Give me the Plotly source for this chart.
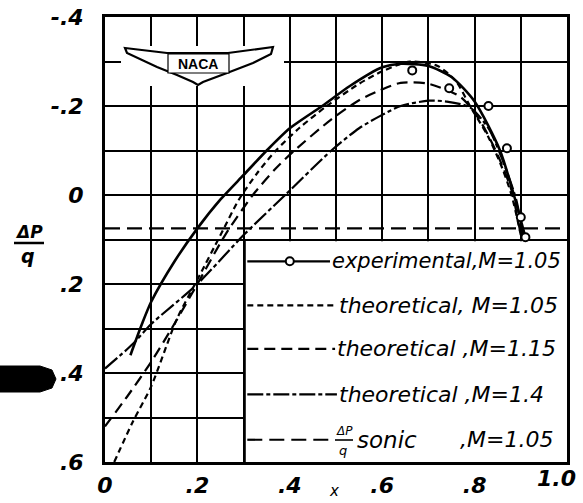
import plotly.graph_objects as go

# ---------------- data ----------------
x_exp_line = [0.055, 0.08, 0.10, 0.15, 0.20, 0.25, 0.30, 0.35, 0.40, 0.47, 0.53, 0.60, 0.64, 0.70, 0.75, 0.80, 0.855, 0.885, 0.91]
y_exp_line = [0.36, 0.29, 0.24, 0.15, 0.075, 0.01, -0.045, -0.10, -0.15, -0.20, -0.245, -0.287, -0.295, -0.29, -0.265, -0.21, -0.10, 0.0, 0.095]

x_exp_pts = [0.665, 0.745, 0.83, 0.87, 0.90, 0.91]
y_exp_pts = [-0.28, -0.24, -0.20, -0.105, 0.05, 0.095]

x_th105 = [0.02, 0.06, 0.10, 0.155, 0.20, 0.25, 0.29, 0.33, 0.37, 0.42, 0.48, 0.55, 0.60, 0.66, 0.72, 0.76, 0.79, 0.83, 0.86, 0.88, 0.90]
y_th105 = [0.60, 0.51, 0.43, 0.28, 0.19, 0.09, 0.01, -0.05, -0.10, -0.15, -0.20, -0.25, -0.278, -0.30, -0.29, -0.255, -0.20, -0.13, -0.06, 0.0, 0.09]

x_th115 = [0.0, 0.05, 0.10, 0.15, 0.20, 0.26, 0.32, 0.37, 0.41, 0.49, 0.55, 0.595, 0.64, 0.70, 0.77, 0.81, 0.85, 0.88, 0.90]
y_th115 = [0.52, 0.45, 0.375, 0.29, 0.20, 0.09, 0.0, -0.06, -0.10, -0.17, -0.213, -0.235, -0.252, -0.25, -0.22, -0.17, -0.09, -0.01, 0.09]

x_th14 = [0.0, 0.06, 0.10, 0.20, 0.30, 0.39, 0.49, 0.55, 0.60, 0.64, 0.70, 0.74, 0.79, 0.83, 0.86, 0.89, 0.905]
y_th14 = [0.39, 0.335, 0.29, 0.20, 0.09, 0.0, -0.10, -0.15, -0.18, -0.20, -0.212, -0.21, -0.197, -0.15, -0.08, 0.01, 0.09]

x_sonic = [0.0, 1.0]
y_sonic = [0.075, 0.075]

x_ticks = [0.0, 0.1, 0.2, 0.3, 0.4, 0.5, 0.6, 0.7, 0.8, 0.9, 1.0]
x_ticktext = ["0", "", ".2", "", ".4", "", ".6", "", ".8", "", ""]
x_last_label = "1.0"      # drawn as an annotation so it stays inside the page
y_ticks = [-0.4, -0.3, -0.2, -0.1, 0.0, 0.1, 0.2, 0.3, 0.4, 0.5, 0.6]
y_ticktext = ["-.4", "", "-.2", "", "0", "", ".2", "", ".4", "", ".6"]

legend_labels = ["experimental,M=1.05", "theoretical, M=1.05", "theoretical ,M=1.15",
                 "theoretical ,M=1.4"]
sonic_words = ["sonic", ",M=1.05"]

# ---------------- geometry helpers ----------------
W, H = 583, 503
PLOT_L, PLOT_R, PLOT_T, PLOT_B = 105, 567, 17, 462      # page pixels of plot area
L, T = PLOT_L, PLOT_T
R = W - PLOT_R
B = H - PLOT_B
PW, PH = W - L - R, H - T - B


def D(px, py):
    """page pixel -> data coordinates (decorations only)"""
    return (px - PLOT_L) / PW, -0.4 + (py - PLOT_T) / PH * 1.0


def P(px, py):
    """page pixel -> paper coordinates"""
    return (px - PLOT_L) / PW, (PLOT_B - py) / PH


BLK = "black"
fig = go.Figure()

fig.add_trace(go.Scatter(x=x_sonic, y=y_sonic, mode="lines",
                         line=dict(color=BLK, width=2.2, dash="15px,7px")))
fig.add_trace(go.Scatter(x=x_th14, y=y_th14, mode="lines",
                         line=dict(color=BLK, width=2.2, dash="16px,3px,4px,3px", shape="spline", smoothing=0.7)))
fig.add_trace(go.Scatter(x=x_th115, y=y_th115, mode="lines",
                         line=dict(color=BLK, width=2.2, dash="11px,6px", shape="spline", smoothing=0.7)))
fig.add_trace(go.Scatter(x=x_th105, y=y_th105, mode="lines",
                         line=dict(color=BLK, width=2.2, dash="6px,4px", shape="spline", smoothing=0.7)))
fig.add_trace(go.Scatter(x=x_exp_line, y=y_exp_line, mode="lines",
                         line=dict(color=BLK, width=2.6, shape="spline", smoothing=0.7)))
fig.add_trace(go.Scatter(x=x_exp_pts, y=y_exp_pts, mode="markers",
                         marker=dict(symbol="circle", size=8, color="white",
                                     line=dict(color=BLK, width=2))))

shapes = []
# legend box (hides grid)
shapes.append(dict(type="rect", xref="x", yref="y", x0=0.303, x1=1.0, y0=0.104, y1=0.6,
                   fillcolor="white", line=dict(width=0), layer="between"))
shapes.append(dict(type="line", xref="x", yref="y", x0=0.303, x1=0.303, y0=0.1, y1=0.6,
                   line=dict(color=BLK, width=1.6), layer="above"))
# legend samples
rows = [0.149, 0.248, 0.346, 0.448, 0.55]
dashes = ["solid", "6px,4px", "11px,6px", "16px,3px,4px,3px", "15px,7px"]
ends = [0.487, 0.502, 0.498, 0.502, 0.498]
for r, d, e in zip(rows, dashes, ends):
    shapes.append(dict(type="line", xref="x", yref="y", x0=0.308, x1=e, y0=r, y1=r,
                       line=dict(color=BLK, width=2.2, dash=d), layer="above"))
cx, cy = 0.40, rows[0]
shapes.append(dict(type="circle", xref="x", yref="y",
                   x0=cx - 4 / PW, x1=cx + 4 / PW, y0=cy - 4 / PH, y1=cy + 4 / PH,
                   fillcolor="white", line=dict(color=BLK, width=2), layer="above"))

# NACA logo area (hides grid)
x0, y0 = D(121, 46)
x1, y1 = D(284, 86)
shapes.append(dict(type="rect", xref="x", yref="y", x0=x0, x1=x1, y0=y0, y1=y1,
                   fillcolor="white", line=dict(width=0), layer="between"))
wing = [(125, 48), (167, 53), (228, 53), (273, 47), (271, 54), (253, 63), (227, 73),
        (203, 82), (198, 85), (193, 82), (177, 75), (157, 67), (127, 53)]
pts = [D(a, b) for a, b in wing]
path = "M " + " L ".join(f"{a:.4f},{b:.4f}" for a, b in pts) + " Z"
shapes.append(dict(type="path", xref="x", yref="y", path=path, fillcolor="white",
                   line=dict(color=BLK, width=2.2), layer="above"))
bx0, by0 = D(168, 54)
bx1, by1 = D(229, 73)
shapes.append(dict(type="rect", xref="x", yref="y", x0=bx0, x1=bx1, y0=by0, y1=by1,
                   fillcolor="white", line=dict(color=BLK, width=1.2), layer="above"))

# fraction bar of the axis title
fx0, fy = P(14, 243)
fx1, _ = P(44, 243)
shapes.append(dict(type="line", xref="paper", yref="paper", x0=fx0, x1=fx1, y0=fy, y1=fy,
                   line=dict(color=BLK, width=2.5)))
# fraction bar in sonic legend entry
sx0, sy = D(335, 440)
sx1, _ = D(353, 440)
shapes.append(dict(type="line", xref="x", yref="y", x0=sx0, x1=sx1, y0=sy, y1=sy,
                   line=dict(color=BLK, width=1.6), layer="above"))

# scanner smear at left
blob = [(0, 366), (40, 366), (52, 370), (56, 379), (52, 388), (40, 392), (0, 392)]
bp = [P(a, b) for a, b in blob]
bpath = "M " + " L ".join(f"{a:.4f},{b:.4f}" for a, b in bp) + " Z"
shapes.append(dict(type="path", xref="paper", yref="paper", path=bpath,
                   fillcolor=BLK, line=dict(color=BLK, width=1)))

annotations = []
text_px = [330, 337, 335, 337]
sizes = [21, 22, 22, 22]
for r, t, tp, s in zip(rows, legend_labels, text_px, sizes):
    annotations.append(dict(x=D(tp, 0)[0], y=r, xref="x", yref="y", text=t, showarrow=False,
                            xanchor="left", yanchor="middle",
                            font=dict(family="DejaVu Sans", size=s, color=BLK, style="italic")))
annotations.append(dict(x=D(355, 0)[0], y=rows[4], xref="x", yref="y", text=sonic_words[0],
                        showarrow=False, xanchor="left", yanchor="middle",
                        font=dict(family="DejaVu Sans", size=23, color=BLK, style="italic")))
annotations.append(dict(x=D(458, 0)[0], y=rows[4], xref="x", yref="y", text=sonic_words[1],
                        showarrow=False, xanchor="left", yanchor="middle",
                        font=dict(family="DejaVu Sans", size=22, color=BLK, style="italic")))
sx, sy1 = D(344, 431)
annotations.append(dict(x=sx, y=sy1, xref="x", yref="y", text="ΔP", showarrow=False,
                        xanchor="center", yanchor="middle",
                        font=dict(family="DejaVu Sans", size=12, color=BLK, style="italic")))
sx, sy2 = D(343, 450)
annotations.append(dict(x=sx, y=sy2, xref="x", yref="y", text="q", showarrow=False,
                        xanchor="center", yanchor="middle",
                        font=dict(family="DejaVu Sans", size=13, color=BLK, style="italic")))

# NACA text
nx, ny = D(198, 64)
annotations.append(dict(x=nx, y=ny, xref="x", yref="y", text="<b>NACA</b>", showarrow=False,
                        xanchor="center", yanchor="middle",
                        font=dict(family="Liberation Sans Narrow, Liberation Sans", size=14, color=BLK)))

tickfont = dict(family="DejaVu Sans", size=22, color=BLK, style="italic", weight="bold")

# last x tick label, kept within the page
ax, ay = P(578, 464)
annotations.append(dict(x=ax, y=ay, xref="paper", yref="paper", text=x_last_label, showarrow=False,
                        xanchor="right", yanchor="top", font=tickfont))

# axis titles
ax, ay = P(29, 232)
annotations.append(dict(x=ax, y=ay, xref="paper", yref="paper", text="ΔP", showarrow=False,
                        xanchor="center", yanchor="middle",
                        font=dict(family="DejaVu Sans", size=17, color=BLK, style="italic", weight="bold")))
ax, ay = P(28, 256)
annotations.append(dict(x=ax, y=ay, xref="paper", yref="paper", text="q", showarrow=False,
                        xanchor="center", yanchor="middle",
                        font=dict(family="DejaVu Sans", size=19, color=BLK, style="italic", weight="bold")))
ax, ay = P(334, 491)
annotations.append(dict(x=ax, y=ay, xref="paper", yref="paper", text="x", showarrow=False,
                        xanchor="center", yanchor="middle",
                        font=dict(family="DejaVu Sans", size=15, color=BLK, style="italic")))

fig.update_layout(
    width=W, height=H,
    margin=dict(l=L, r=R, t=T, b=B, pad=0, autoexpand=False),
    paper_bgcolor="white", plot_bgcolor="white",
    showlegend=False,
    shapes=shapes,
    annotations=annotations,
    xaxis=dict(range=[0, 1], tickmode="array", tickvals=x_ticks, ticktext=x_ticktext,
               showgrid=True, gridcolor=BLK, gridwidth=2.2, zeroline=False,
               showline=True, linecolor=BLK, linewidth=3, mirror=True, ticks="",
               tickfont=tickfont, ticklabelstandoff=2, ticklabeloverflow="allow",
               fixedrange=True, automargin=False),
    yaxis=dict(range=[0.6, -0.4], tickmode="array", tickvals=y_ticks, ticktext=y_ticktext,
               showgrid=True, gridcolor=BLK, gridwidth=2.2, zeroline=False,
               showline=True, linecolor=BLK, linewidth=3, mirror=True, ticks="",
               tickfont=tickfont, ticklabelstandoff=14, ticklabeloverflow="allow",
               fixedrange=True, automargin=False),
)

# remove the browser's default 8px body margin so the figure sits at (0, 0)
fig.write_html("out.html", config={"displayModeBar": False},
               post_script="document.body.style.margin='0px';")
